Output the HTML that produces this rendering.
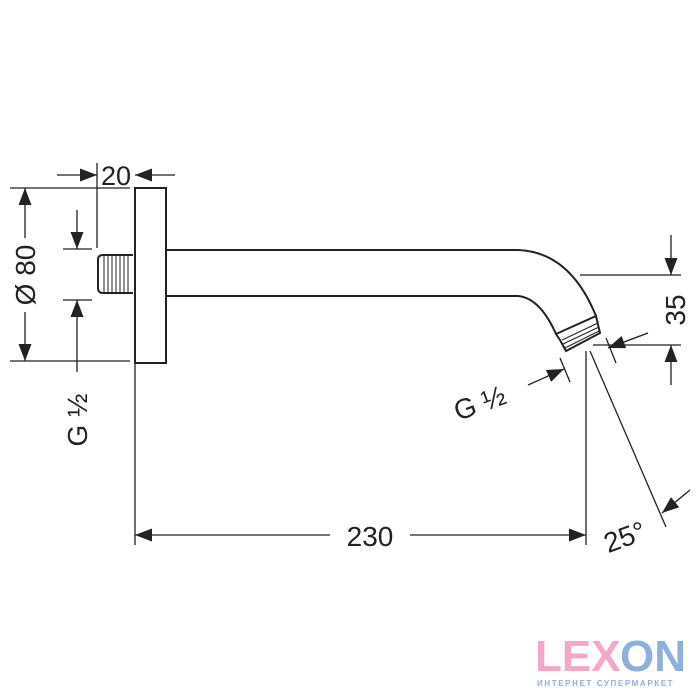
<!DOCTYPE html>
<html><head><meta charset="utf-8"><style>html,body{margin:0;padding:0;background:#fff;}svg{display:block}</style></head>
<body>
<svg width="700" height="700" viewBox="0 0 700 700" xmlns="http://www.w3.org/2000/svg">
<defs>
<marker id="b" markerWidth="17" markerHeight="13" refX="17" refY="6.5" orient="auto" markerUnits="userSpaceOnUse" viewBox="0 0 17 13">
<path d="M0,0 L17,6.5 L0,13 Z" fill="#222"/></marker>
</defs>
<g stroke="#222" fill="none" stroke-width="1.3">
<rect x="135" y="188" width="31" height="175" stroke-width="2"/>
<line x1="135" y1="363" x2="135" y2="545"/>
<path d="M133,255 L103,255 Q98,255 98,260 L98,288 Q98,293 103,293 L133,293" stroke-width="2"/>
<g stroke-width="1">
<line x1="104" y1="256" x2="104" y2="292"/><line x1="108" y1="256" x2="108" y2="292"/><line x1="112" y1="256" x2="112" y2="292"/><line x1="116" y1="256" x2="116" y2="292"/><line x1="120" y1="256" x2="120" y2="292"/><line x1="124" y1="256" x2="124" y2="292"/><line x1="128" y1="256" x2="128" y2="292"/>
</g>
<path d="M166,250 L518,250 Q570,252 596,316" stroke-width="2"/>
<path d="M166,296 L518,296 Q540,298 556,334" stroke-width="2"/>
<path d="M556,334 L596,316 L600,333 L566,351 L560,340 Z" stroke-width="2"/>
<g stroke-width="1"><line x1="562" y1="340" x2="598" y2="323"/><line x1="563" y1="344" x2="599" y2="327"/><line x1="565" y1="348" x2="599" y2="331"/></g>
<line x1="97" y1="163" x2="97" y2="248"/>
<line x1="57" y1="175" x2="97" y2="175" marker-end="url(#b)"/>
<line x1="175" y1="175" x2="135" y2="175" marker-end="url(#b)"/>
<line x1="10" y1="188" x2="130" y2="188"/>
<line x1="10" y1="361" x2="130" y2="361"/>
<line x1="25" y1="238" x2="25" y2="188" marker-end="url(#b)"/>
<line x1="25" y1="312" x2="25" y2="361" marker-end="url(#b)"/>
<line x1="63" y1="249" x2="92" y2="249"/>
<line x1="63" y1="300" x2="92" y2="300"/>
<line x1="77" y1="210" x2="77" y2="249" marker-end="url(#b)"/>
<line x1="77" y1="372" x2="77" y2="300" marker-end="url(#b)"/>
<line x1="580" y1="275" x2="681" y2="275"/>
<line x1="593" y1="345" x2="681" y2="345"/>
<line x1="671" y1="235" x2="671" y2="275" marker-end="url(#b)"/>
<line x1="671" y1="385" x2="671" y2="345" marker-end="url(#b)"/>
<line x1="648" y1="333" x2="608" y2="348" marker-end="url(#b)"/>
<line x1="606" y1="338" x2="616" y2="363"/>
<line x1="528" y1="385" x2="564" y2="369" marker-end="url(#b)"/>
<line x1="560" y1="358" x2="570" y2="382"/>
<line x1="586" y1="351" x2="586" y2="545"/>
<line x1="330" y1="535" x2="135" y2="535" marker-end="url(#b)"/>
<line x1="410" y1="535" x2="586" y2="535" marker-end="url(#b)"/>
<line x1="590" y1="351" x2="666" y2="527"/>
<line x1="690" y1="490" x2="662" y2="513" marker-end="url(#b)"/>
</g>
<g font-family="Liberation Sans, sans-serif" fill="#222" font-size="28">
<text x="116" y="185" text-anchor="middle" font-size="27">20</text>
<text x="370" y="546" text-anchor="middle">230</text>
<text transform="translate(35,275) rotate(-90)" text-anchor="middle">Ø 80</text>
<text transform="translate(87,420) rotate(-90)" text-anchor="middle">G ½</text>
<text transform="translate(685,310) rotate(-90)" text-anchor="middle">35</text>
<text transform="translate(483,412) rotate(-20)" text-anchor="middle">G ½</text>
<text transform="translate(628,546) rotate(-20)" text-anchor="middle">25°</text>
</g>
<g font-family="Liberation Sans, sans-serif" font-weight="bold">
<text x="535" y="671" font-size="44" fill="#f4a7c8">LEX</text>
<text x="620" y="671" font-size="44" fill="#8fb0dc">ON</text>
<text x="537" y="686" font-size="8" fill="#8fb0dc" letter-spacing="1.6">ИНТЕРНЕТ СУПЕРМАРКЕТ</text>
</g>
</svg>
</body></html>
